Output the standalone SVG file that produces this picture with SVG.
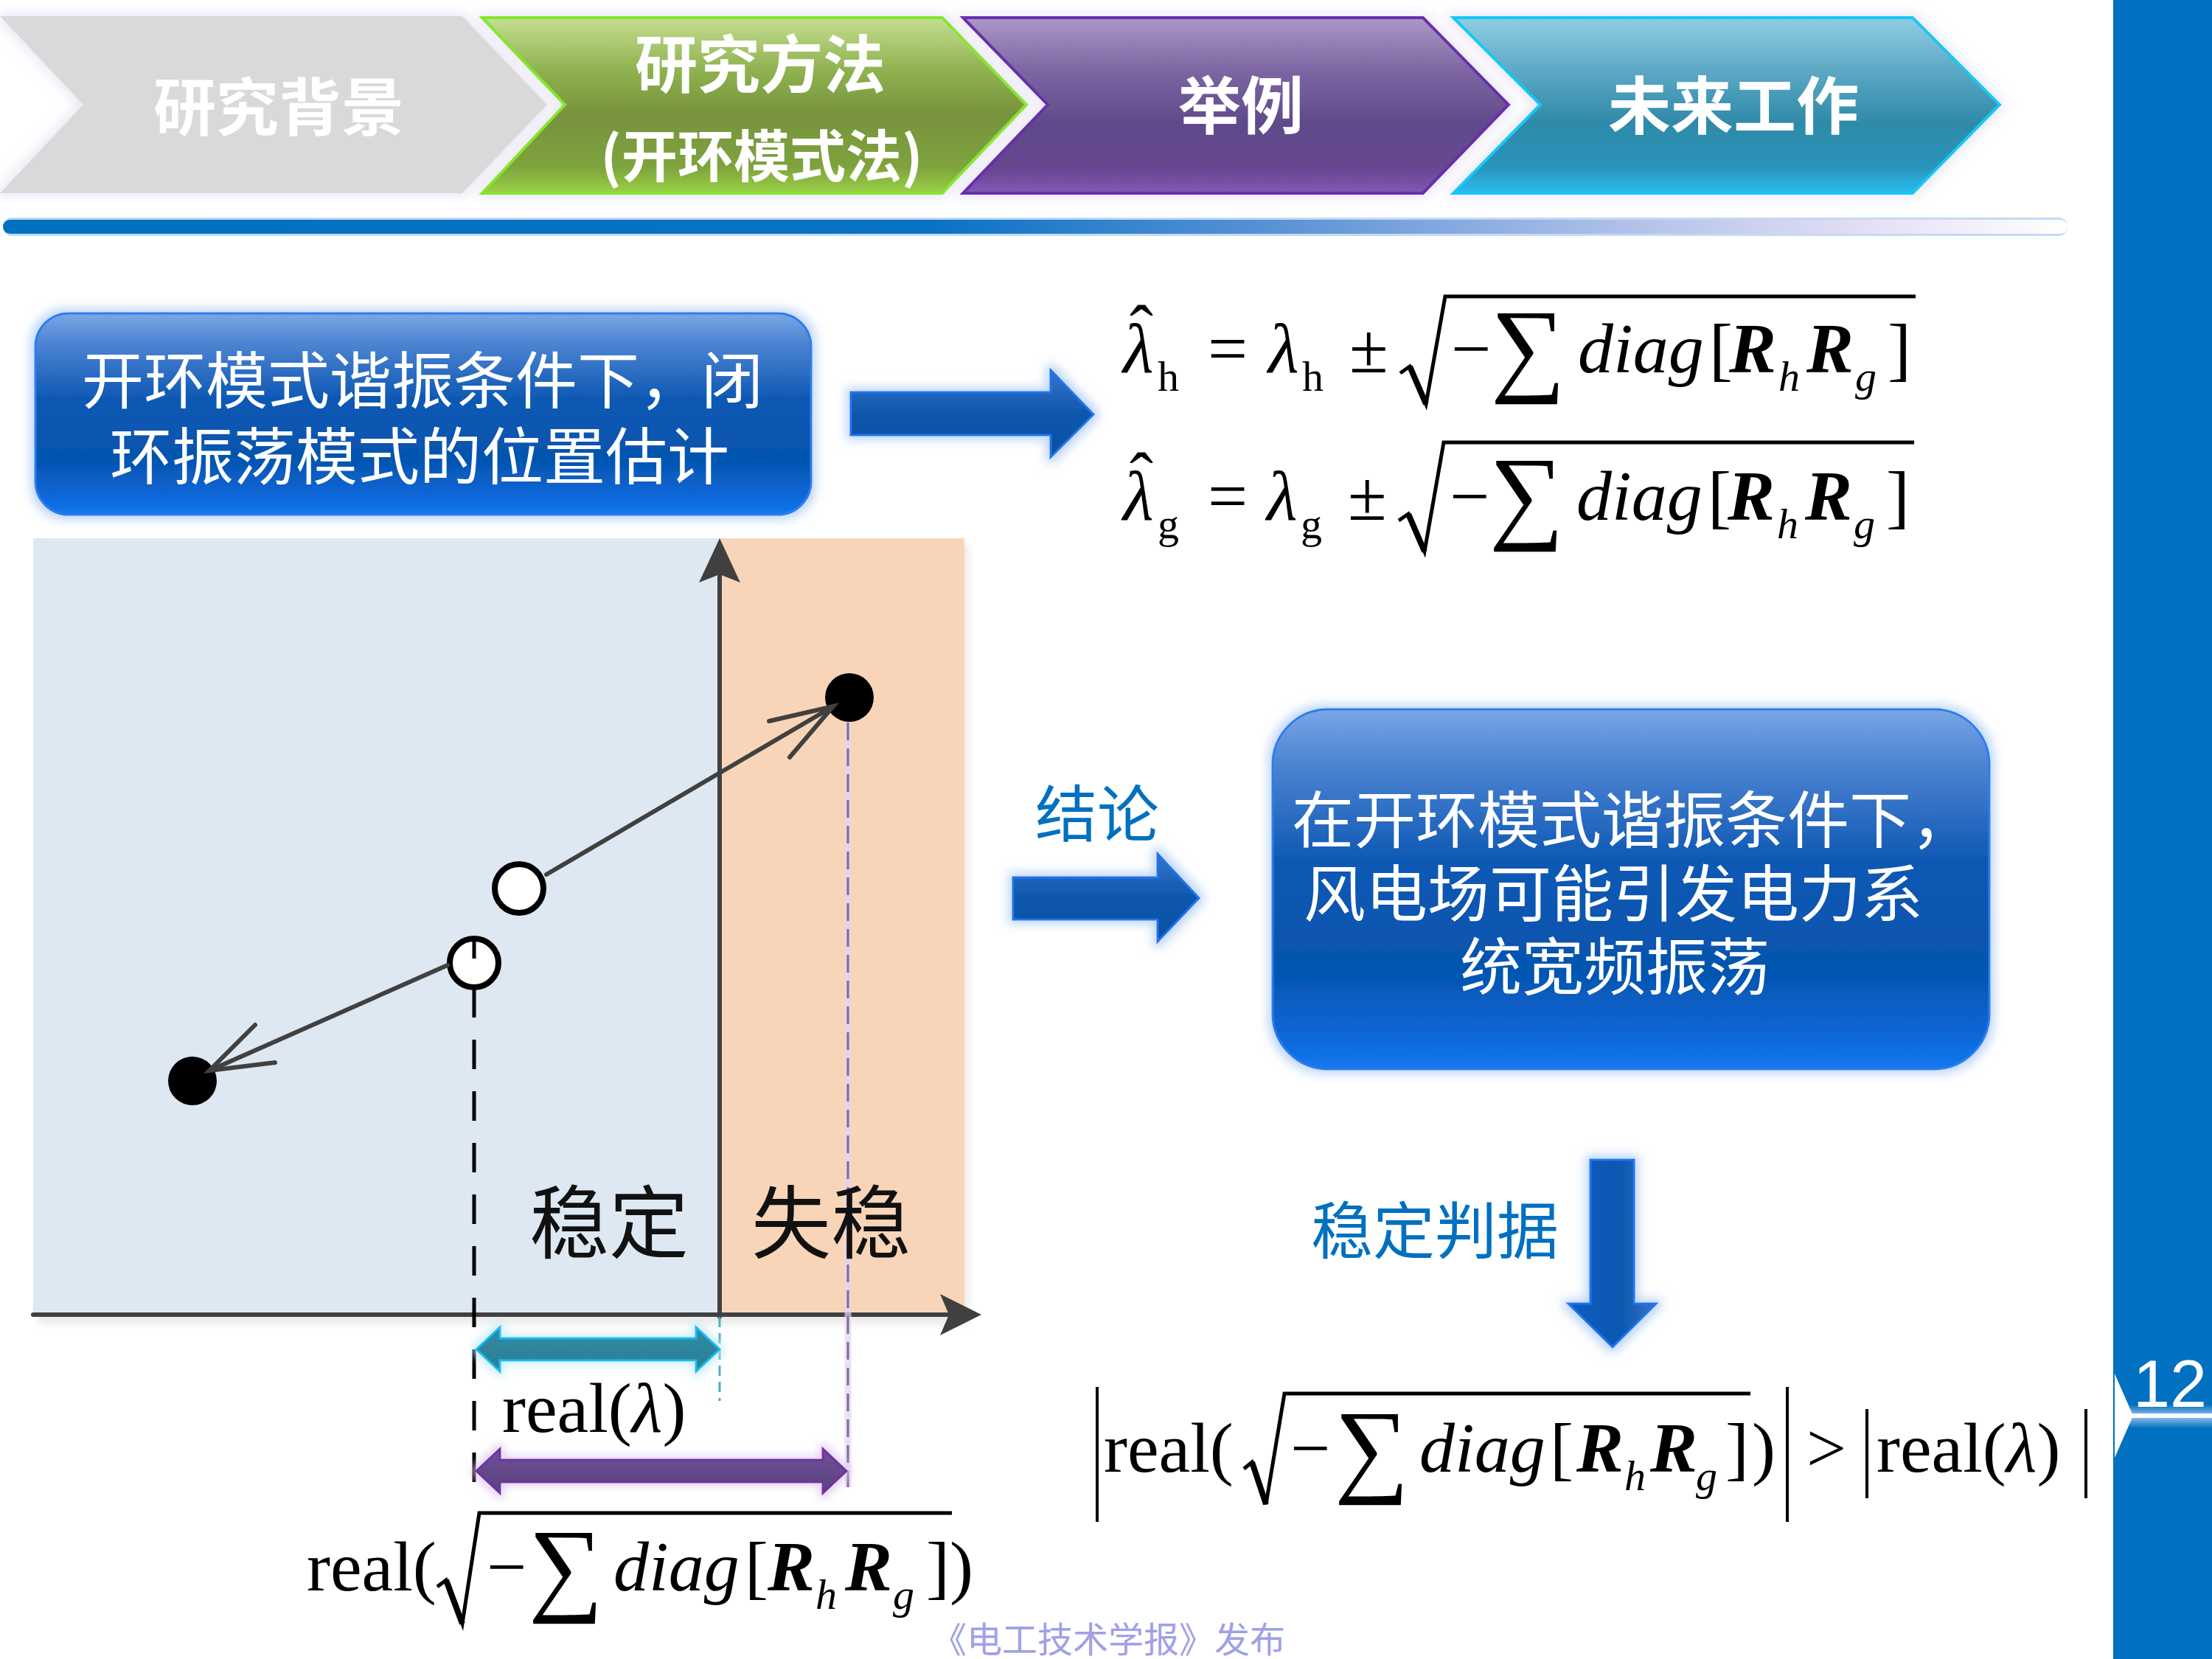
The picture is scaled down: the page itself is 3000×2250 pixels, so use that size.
<svg xmlns="http://www.w3.org/2000/svg" width="3000" height="2250" viewBox="0 0 3000 2250">
<defs>
<style>
.cjk{font-family:"Noto Sans CJK SC","Noto Sans",sans-serif}
.hdr{font-family:"Noto Sans CJK SC","Noto Sans",sans-serif;font-weight:700;font-size:85px;fill:#ffffff;text-anchor:middle}
.hdr2{font-size:76px}
.wt{font-family:"Noto Sans CJK SC","Noto Sans",sans-serif;font-size:84px;fill:#ffffff}
.bl{font-family:"Noto Sans CJK SC","Noto Sans",sans-serif;font-size:84px;fill:#0070c0}
.zh{font-family:"Noto Sans CJK SC","Noto Sans",sans-serif;font-size:108px;fill:#111111}
.m{font-family:"Liberation Serif","DejaVu Serif",serif;font-size:96px;fill:#000000}
.mi{font-style:italic}
.mb{font-style:italic;font-weight:bold}
.sub{font-size:58px}
.sig{font-family:"Liberation Serif","DejaVu Serif",serif;font-size:142px;fill:#000000}
.rad{fill:none;stroke:#000000;stroke-width:5;stroke-linejoin:miter}
.bar{stroke:#000000;stroke-width:4}
.axis{stroke:#404040;stroke-width:6;fill:none;stroke-linecap:round}
.ax-head{fill:#404040}
.ptr{stroke:#404040;stroke-width:6;fill:none;stroke-linecap:round}
</style>
<linearGradient id="gGreen" x1="0" y1="0" x2="0" y2="1">
<stop offset="0" stop-color="#c5de92"/><stop offset="0.3" stop-color="#8fb24f"/><stop offset="0.55" stop-color="#77933c"/><stop offset="0.85" stop-color="#7ea33d"/><stop offset="1" stop-color="#9ad046"/>
</linearGradient>
<linearGradient id="gPurple" x1="0" y1="0" x2="0" y2="1">
<stop offset="0" stop-color="#aa98c6"/><stop offset="0.3" stop-color="#7d66a2"/><stop offset="0.6" stop-color="#604a8a"/><stop offset="0.85" stop-color="#66468f"/><stop offset="1" stop-color="#8058b4"/>
</linearGradient>
<linearGradient id="gTeal" x1="0" y1="0" x2="0" y2="1">
<stop offset="0" stop-color="#90cde3"/><stop offset="0.3" stop-color="#5ca9c5"/><stop offset="0.6" stop-color="#2f8aa8"/><stop offset="0.85" stop-color="#2a94bc"/><stop offset="1" stop-color="#2cbcec"/>
</linearGradient>
<linearGradient id="gBar" x1="0" y1="0" x2="1" y2="0">
<stop offset="0" stop-color="#0070c0"/><stop offset="0.45" stop-color="#0a72c4"/><stop offset="0.62" stop-color="#5b93d6"/><stop offset="0.78" stop-color="#aebfe8"/><stop offset="0.9" stop-color="#e4def4"/><stop offset="1" stop-color="#ffffff"/>
</linearGradient>
<linearGradient id="gBox" x1="0" y1="0" x2="0" y2="1">
<stop offset="0" stop-color="#7aa6e4"/><stop offset="0.15" stop-color="#4d84d2"/><stop offset="0.42" stop-color="#0f59b4"/><stop offset="0.72" stop-color="#0554ae"/><stop offset="0.9" stop-color="#0a66d6"/><stop offset="1" stop-color="#1478ee"/>
</linearGradient>
<linearGradient id="gArrow" x1="0" y1="0" x2="0" y2="1">
<stop offset="0" stop-color="#3a74c8"/><stop offset="0.5" stop-color="#0d57ae"/><stop offset="1" stop-color="#0a4f9f"/>
</linearGradient>
<linearGradient id="gArrowV" x1="0" y1="0" x2="1" y2="0">
<stop offset="0" stop-color="#0a5cc0"/><stop offset="0.6" stop-color="#0b58b0"/><stop offset="1" stop-color="#3c72c6"/>
</linearGradient>
<linearGradient id="gTealArrow" x1="0" y1="0" x2="0" y2="1">
<stop offset="0" stop-color="#2e8ba4"/><stop offset="1" stop-color="#2f7d96"/>
</linearGradient>
<linearGradient id="gPurpleArrow" x1="0" y1="0" x2="0" y2="1">
<stop offset="0" stop-color="#6e5196"/><stop offset="1" stop-color="#5b4180"/>
</linearGradient>
<linearGradient id="gBand" x1="0" y1="0" x2="0" y2="1">
<stop offset="0" stop-color="#0070c0"/><stop offset="0.5" stop-color="#9cc2ec"/><stop offset="1" stop-color="#0070c0"/>
</linearGradient>
<filter id="glow" x="-20%" y="-30%" width="140%" height="160%">
<feMorphology in="SourceAlpha" operator="dilate" radius="5" result="d"/>
<feGaussianBlur in="d" stdDeviation="7" result="b"/>
<feFlood flood-color="#a8c8f4" flood-opacity="0.75"/>
<feComposite in2="b" operator="in" result="g"/>
<feMerge><feMergeNode in="g"/><feMergeNode in="SourceGraphic"/></feMerge>
</filter>
<filter id="glowP" x="-20%" y="-50%" width="140%" height="200%">
<feMorphology in="SourceAlpha" operator="dilate" radius="4" result="d"/>
<feGaussianBlur in="d" stdDeviation="6" result="b"/>
<feFlood flood-color="#dcc8f0" flood-opacity="0.8"/>
<feComposite in2="b" operator="in" result="g"/>
<feMerge><feMergeNode in="g"/><feMergeNode in="SourceGraphic"/></feMerge>
</filter>
<filter id="glowC" x="-20%" y="-50%" width="140%" height="200%">
<feMorphology in="SourceAlpha" operator="dilate" radius="4" result="d"/>
<feGaussianBlur in="d" stdDeviation="6" result="b"/>
<feFlood flood-color="#bfeaf8" flood-opacity="0.8"/>
<feComposite in2="b" operator="in" result="g"/>
<feMerge><feMergeNode in="g"/><feMergeNode in="SourceGraphic"/></feMerge>
</filter>
<filter id="glowH" x="-10%" y="-20%" width="120%" height="140%">
<feMorphology in="SourceAlpha" operator="dilate" radius="4" result="d"/>
<feGaussianBlur in="d" stdDeviation="8" result="b"/>
<feFlood flood-color="#e6e2f2" flood-opacity="0.8"/>
<feComposite in2="b" operator="in" result="g"/>
<feMerge><feMergeNode in="g"/><feMergeNode in="SourceGraphic"/></feMerge>
</filter>
<filter id="soft" x="-10%" y="-10%" width="120%" height="120%">
<feGaussianBlur stdDeviation="5"/>
</filter>
</defs>

<rect x="0" y="0" width="3000" height="2250" fill="#ffffff"/>

<!-- header -->
<g id="header">
<g id="step-background" filter="url(#glowH)">
<polygon points="0,22 627,22 742,142 627,262 0,262 113,142" fill="#d9d9d9"/>
<text class="hdr" x="378" y="177">研究背景</text>
</g>
<g id="step-method" filter="url(#glowH)">
<polygon points="654,24 1278,24 1392,142 1278,262 654,262 766,142" fill="url(#gGreen)" stroke="#86e62a" stroke-width="4"/>
<text class="hdr" x="1031" y="119">研究方法</text>
<text class="hdr hdr2" x="1033" y="240">(开环模式法)</text>
</g>
<g id="step-example" filter="url(#glowH)">
<polygon points="1306,24 1930,24 2046,142 1930,262 1306,262 1421,142" fill="url(#gPurple)" stroke="#6a2eac" stroke-width="4"/>
<text class="hdr" x="1683" y="175">举例</text>
</g>
<g id="step-future" filter="url(#glowH)">
<polygon points="1971,24 2594,24 2712,142 2594,262 1971,262 2089,142" fill="url(#gTeal)" stroke="#12c8f6" stroke-width="4"/>
<text class="hdr" x="2351" y="175">未来工作</text>
</g>
<rect x="4" y="295" width="2800" height="25" rx="12" fill="#a9cbee" opacity="0.7"/>
<rect x="4" y="298" width="2800" height="19" rx="9.5" fill="url(#gBar)"/>
</g>

<!-- sidebar -->
<g id="sidebar">
<rect x="2866" y="0" width="134" height="2250" fill="#0070c0"/>
<rect x="2888" y="1905" width="112" height="32" fill="url(#gBand)"/>
<rect x="2890" y="1917" width="110" height="6" fill="#ffffff"/>
<polygon points="2868,1863 2893,1920 2868,1977" fill="#ffffff"/>
<text x="2893" y="1908" font-family="Liberation Sans, Arial, sans-serif" font-size="90" fill="#ffffff">12</text>
</g>

<!-- top-left box -->
<g id="box-estimate" filter="url(#glow)">
<rect x="48" y="425" width="1052" height="273" rx="45" fill="url(#gBox)" stroke="#2a7ef0" stroke-width="3"/>
<text class="wt" x="111" y="547">开环模式谐振条件下，闭</text>
<text class="wt" x="149" y="650">环振荡模式的位置估计</text>
</g>

<!-- equations -->
<g id="eq-estimates">
<g id="eq-h">
<text class="m mi" x="1523" y="505">λ</text>
<text class="m" x="1532" y="480">ˆ</text>
<text class="m sub" x="1570" y="530">h</text>
<text class="m" x="1638" y="505">=</text>
<text class="m mi" x="1720" y="505">λ</text>
<text class="m sub" x="1766" y="530">h</text>
<text class="m" x="1830" y="505">±</text>
<path class="rad" d="M1899,506 L1912,497 L1934,548 L1960,402 L2598,402"/>
<line x1="1912" y1="497" x2="1934" y2="548" stroke="#000" stroke-width="8"/>
<text class="m" x="1968" y="505">−</text>
<text class="sig" x="2022" y="518">∑</text>
<text class="m mi" x="2140" y="505">diag</text>
<text class="m" x="2318" y="505">[</text>
<text class="m mb" x="2345" y="505">R</text>
<text class="m mi sub" x="2412" y="530">h</text>
<text class="m mb" x="2450" y="505">R</text>
<text class="m mi sub" x="2516" y="530">g</text>
<text class="m" x="2560" y="505">]</text>
</g>
<g id="eq-g">
<text class="m mi" x="1523" y="705">λ</text>
<text class="m" x="1532" y="680">ˆ</text>
<text class="m sub" x="1570" y="730">g</text>
<text class="m" x="1638" y="705">=</text>
<text class="m mi" x="1718" y="705">λ</text>
<text class="m sub" x="1764" y="730">g</text>
<text class="m" x="1828" y="705">±</text>
<path class="rad" d="M1897,706 L1910,697 L1932,748 L1958,600 L2596,600"/>
<line x1="1910" y1="697" x2="1932" y2="748" stroke="#000" stroke-width="8"/>
<text class="m" x="1966" y="705">−</text>
<text class="sig" x="2020" y="718">∑</text>
<text class="m mi" x="2138" y="705">diag</text>
<text class="m" x="2316" y="705">[</text>
<text class="m mb" x="2343" y="705">R</text>
<text class="m mi sub" x="2410" y="730">h</text>
<text class="m mb" x="2448" y="705">R</text>
<text class="m mi sub" x="2514" y="730">g</text>
<text class="m" x="2558" y="705">]</text>
</g>
</g>

<!-- plot -->
<g id="plot">
<rect x="52" y="738" width="1262" height="1058" fill="#e6e6e6" filter="url(#soft)" opacity="0.8"/>
<rect x="45" y="730" width="931" height="1053" fill="#dee8f3"/>
<rect x="976" y="730" width="332" height="1053" fill="#f8d5b8"/>
<line class="axis" x1="976" y1="1786" x2="976" y2="770"/>
<polygon class="ax-head" points="948,790 976,730 1004,790 976,779"/>
<line class="axis" x1="45" y1="1783" x2="1295" y2="1783"/>
<polygon class="ax-head" points="1275,1755 1331,1783 1275,1811 1287,1783"/>
<line x1="976" y1="1786" x2="976" y2="1900" stroke="#4bacc6" stroke-width="3" stroke-dasharray="14 8"/>
<line x1="1150" y1="980" x2="1150" y2="2017" stroke="#e2d6f0" stroke-width="9" opacity="0.7"/>
<line x1="1150" y1="980" x2="1150" y2="2017" stroke="#8064a2" stroke-width="3" stroke-dasharray="24 11"/>
<line x1="643" y1="1340" x2="643" y2="2013" stroke="#000000" stroke-width="5" stroke-dasharray="40 30"/>
<g id="pole-unstable"><circle cx="1152" cy="946" r="33" fill="#000000"/></g>
<g id="pole-stable"><circle cx="261" cy="1466" r="33" fill="#000000"/></g>
<g id="mode-1"><circle cx="704" cy="1205" r="33" fill="#ffffff" stroke="#000000" stroke-width="8"/></g>
<g id="mode-2"><circle cx="643" cy="1306" r="33" fill="#ffffff" stroke="#000000" stroke-width="8"/>
<line x1="643" y1="1276" x2="643" y2="1300" stroke="#000" stroke-width="5"/></g>
<text class="zh" x="718" y="1698">稳定</text>
<text class="zh" x="1019" y="1698">失稳</text>
<g id="span-lambda" filter="url(#glowC)">
<polygon points="646,1830 678,1800 678,1815 944,1815 944,1800 976,1830 944,1860 944,1845 678,1845 678,1860" fill="url(#gTealArrow)" stroke="#14bdf0" stroke-width="3"/>
</g>
<text class="m" x="681" y="1942">real(<tspan class="mi">λ</tspan>)</text>
<g id="span-sqrt" filter="url(#glowP)">
<polygon points="646,1995 678,1965 678,1980 1116,1980 1116,1965 1148,1995 1116,2025 1116,2010 678,2010 678,2025" fill="url(#gPurpleArrow)" stroke="#7030a0" stroke-width="3"/>
</g>
<g id="label-sqrt">
<text class="m" x="416" y="2157">real(</text>
<path class="rad" d="M593,2152 L605,2143 L627,2202 L650,2052 L1291,2052"/>
<line x1="605" y1="2143" x2="627" y2="2202" stroke="#000" stroke-width="8"/>
<text class="m" x="660" y="2157">−</text>
<text class="sig" x="717" y="2172">∑</text>
<text class="m mi" x="832" y="2157">diag</text>
<text class="m" x="1010" y="2157">[</text>
<text class="m mb" x="1041" y="2157">R</text>
<text class="m mi sub" x="1106" y="2182">h</text>
<text class="m mb" x="1146" y="2157">R</text>
<text class="m mi sub" x="1211" y="2182">g</text>
<text class="m" x="1256" y="2157">]</text>
<text class="m" x="1288" y="2157">)</text>
</g>
</g>

<!-- connectors -->
<g id="connectors">
<polyline class="ptr" points="741,1186 1130,958"/>
<polyline class="ptr" points="1043,978 1130,958 1071,1027"/>
<polyline class="ptr" points="607,1309 284,1452"/>
<polyline class="ptr" points="346,1390 284,1452 373,1441"/>
<g id="arrow-estimate" filter="url(#glow)">
<polygon points="1154,532 1425,532 1425,502 1483,562 1425,620 1425,590 1154,590" fill="url(#gArrow)" stroke="#1f74f2" stroke-width="3"/>
</g>
<g id="arrow-conclusion" filter="url(#glow)">
<polygon points="1374,1190 1570,1190 1570,1158 1626,1218 1570,1277 1570,1247 1374,1247" fill="url(#gArrow)" stroke="#1f74f2" stroke-width="3"/>
</g>
<g id="arrow-criterion" filter="url(#glow)">
<polygon points="2157,1573 2216,1573 2216,1768 2246,1768 2187,1827 2127,1768 2157,1768" fill="url(#gArrowV)" stroke="#1f74f2" stroke-width="3"/>
</g>
</g>

<g id="label-conclusion"><text class="bl" x="1404" y="1135">结论</text></g>

<g id="box-conclusion" filter="url(#glow)">
<rect x="1726" y="962" width="972" height="488" rx="75" fill="url(#gBox)" stroke="#2a7ef0" stroke-width="3"/>
<text class="wt" x="1752" y="1143">在开环模式谐振条件下，</text>
<text class="wt" x="1768" y="1243">风电场可能引发电力系</text>
<text class="wt" x="1980" y="1342">统宽频振荡</text>
</g>

<g id="label-criterion"><text class="bl" x="1778" y="1700">稳定判据</text></g>

<g id="criterion">
<line class="bar" x1="1488" y1="1881" x2="1488" y2="2064"/>
<text class="m" x="1497" y="1996">real(</text>
<path class="rad" d="M1687,1992 L1698,1983 L1717,2040 L1742,1890 L2374,1890"/>
<line x1="1698" y1="1983" x2="1717" y2="2040" stroke="#000" stroke-width="8"/>
<text class="m" x="1750" y="1996">−</text>
<text class="sig" x="1810" y="2011">∑</text>
<text class="m mi" x="1925" y="1996">diag</text>
<text class="m" x="2102" y="1996">[</text>
<text class="m mb" x="2138" y="1996">R</text>
<text class="m mi sub" x="2203" y="2021">h</text>
<text class="m mb" x="2238" y="1996">R</text>
<text class="m mi sub" x="2300" y="2021">g</text>
<text class="m" x="2340" y="1996">]</text>
<text class="m" x="2376" y="1996">)</text>
<line class="bar" x1="2424" y1="1881" x2="2424" y2="2064"/>
<text class="m" x="2450" y="1996">&gt;</text>
<line class="bar" x1="2532" y1="1911" x2="2532" y2="2032"/>
<text class="m" x="2545" y="1996">real(<tspan class="mi">λ</tspan>)</text>
<line class="bar" x1="2829" y1="1911" x2="2829" y2="2032"/>
</g>

<g id="watermark"><text x="1263" y="2241" font-family="Noto Sans CJK SC, sans-serif" font-size="48" fill="#a0a0e6">《电工技术学报》发布</text></g>
</svg>
